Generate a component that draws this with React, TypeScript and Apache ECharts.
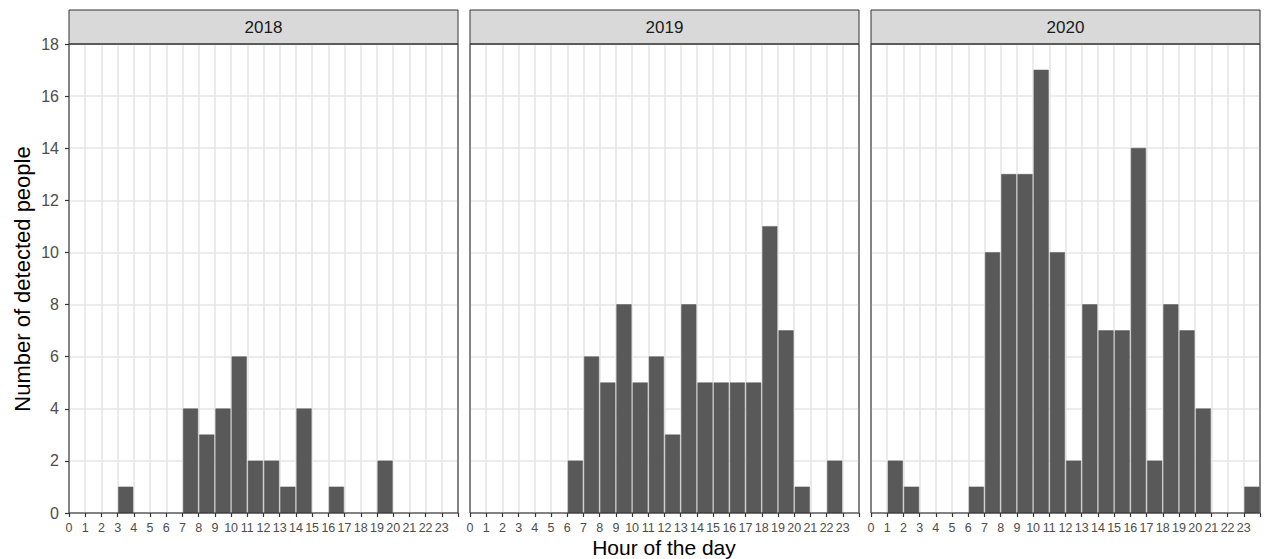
import React, { useEffect, useRef } from "react";
import * as echarts from "echarts";

const years = ["2018", "2019", "2020"];
const hours = [0, 1, 2, 3, 4, 5, 6, 7, 8, 9, 10, 11, 12, 13, 14, 15, 16, 17, 18, 19, 20, 21, 22, 23];
const counts2018 = [0, 0, 0, 1, 0, 0, 0, 4, 3, 4, 6, 2, 2, 1, 4, 0, 1, 0, 0, 2, 0, 0, 0, 0];
const counts2019 = [0, 0, 0, 0, 0, 0, 2, 6, 5, 8, 5, 6, 3, 8, 5, 5, 5, 5, 11, 7, 1, 0, 2, 0];
const counts2020 = [0, 2, 1, 0, 0, 0, 1, 10, 13, 13, 17, 10, 2, 8, 7, 7, 14, 2, 8, 7, 4, 0, 0, 1];
const yTicks = [0, 2, 4, 6, 8, 10, 12, 14, 16, 18];

const FONT = "'Liberation Sans', Arial, Helvetica, sans-serif";

export default function App() {
  const ref = useRef<HTMLDivElement>(null);

  useEffect(() => {
    document.body.style.margin = "0";
    if (!ref.current) return;
    const chart = echarts.init(ref.current, null, { renderer: "svg" });

    const counts = [counts2018, counts2019, counts2020];
    const lefts = [69, 470, 871];
    const W = 389;
    const TOP = 44;
    const H = 469;

    const grids = lefts.map((l) => ({
      left: l,
      top: TOP,
      width: W,
      height: H,
      show: true,
      borderColor: "#333333",
      borderWidth: 1,
      backgroundColor: "#ffffff",
      containLabel: false,
    }));

    const xAxes = lefts.map((_, i) => ({
      type: "value",
      gridIndex: i,
      min: 0,
      max: 24,
      interval: 1,
      axisLine: { show: false },
      axisTick: { show: true, length: 4, lineStyle: { color: "#333333", width: 1.2 } },
      axisLabel: {
        show: true,
        margin: 8,
        fontSize: 12.5,
        color: "#4D4D4D",
        fontFamily: FONT,
        formatter: (v: number) => (hours.indexOf(v) >= 0 ? String(v) : ""),
      },
      splitLine: { show: true, lineStyle: { color: "#E6E6E6", width: 1.6 } },
    }));

    const yAxes = lefts.map((_, i) => ({
      type: "value",
      gridIndex: i,
      min: yTicks[0],
      max: yTicks[yTicks.length - 1],
      interval: 2,
      axisLine: { show: false },
      axisTick: { show: i === 0, length: 4, lineStyle: { color: "#333333", width: 1.2 } },
      axisLabel: {
        show: i === 0,
        margin: 10,
        fontSize: 16,
        color: "#4D4D4D",
        fontFamily: FONT,
      },
      splitLine: { show: true, lineStyle: { color: "#E6E6E6", width: 1.6 } },
    }));

    const series = counts.map((arr, i) => ({
      type: "custom",
      xAxisIndex: i,
      yAxisIndex: i,
      encode: { x: 0, y: 1 },
      data: hours.map((h, k) => [h, arr[k]]),
      renderItem: (params: any, api: any) => {
        const x = api.value(0);
        const y = api.value(1);
        if (!y) return null;
        const p0 = api.coord([x + 0.05, y]);
        const p1 = api.coord([x + 0.95, 0]);
        return {
          type: "rect",
          shape: { x: p0[0], y: p0[1], width: p1[0] - p0[0], height: p1[1] - p0[1] },
          style: { fill: "#595959", stroke: "#595959", lineWidth: 0.5 },
        };
      },
      z: 3,
    }));

    const graphic: any[] = [];
    lefts.forEach((l, i) => {
      graphic.push({
        type: "rect",
        shape: { x: l, y: 10, width: W, height: TOP - 10 },
        style: { fill: "#D9D9D9", stroke: "#333333", lineWidth: 1 },
        z: 10,
      });
      graphic.push({
        type: "text",
        x: l + W / 2,
        y: 10 + (TOP - 10) / 2,
        style: {
          text: years[i],
          fontSize: 17,
          fill: "#1A1A1A",
          fontFamily: FONT,
          align: "center",
          verticalAlign: "middle",
        },
        z: 11,
      });
      graphic.push({
        type: "rect",
        shape: { x: l, y: TOP, width: W, height: H },
        style: { fill: "none", stroke: "#333333", lineWidth: 1 },
        z: 12,
      });
    });
    graphic.push({
      type: "text",
      x: 664,
      y: 547,
      style: {
        text: "Hour of the day",
        fontSize: 21,
        fill: "#000000",
        fontFamily: FONT,
        align: "center",
        verticalAlign: "middle",
      },
    });
    graphic.push({
      type: "text",
      x: 22,
      y: 279,
      rotation: Math.PI / 2,
      style: {
        text: "Number of detected people",
        fontSize: 22,
        fill: "#000000",
        fontFamily: FONT,
        align: "center",
        verticalAlign: "middle",
      },
    });

    chart.setOption({
      animation: false,
      backgroundColor: "#ffffff",
      grid: grids,
      xAxis: xAxes,
      yAxis: yAxes,
      series,
      graphic,
    });

    return () => chart.dispose();
  }, []);

  return <div ref={ref} style={{ width: 1264, height: 559 }} />;
}
